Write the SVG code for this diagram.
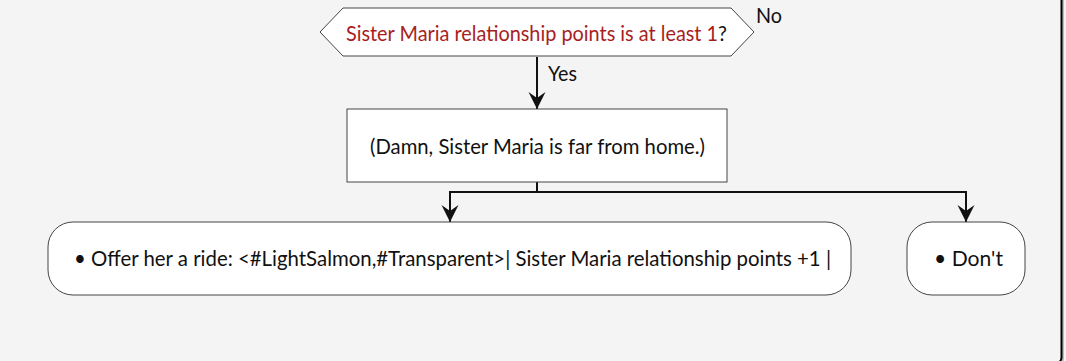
<svg xmlns="http://www.w3.org/2000/svg" width="1066" height="361" viewBox="0 0 1066 361">
<defs>
<style>
text{font-family:Lato,"Open Sans","Liberation Sans",sans-serif;font-size:20.5px;fill:#111}
.node{fill:#fff;stroke:#444;stroke-width:1}
.edge{fill:none;stroke:#111;stroke-width:2}
.red{fill:#a81e1e}
</style>
<marker id="ah" markerWidth="20" markerHeight="20" refX="18" refY="9" orient="auto" markerUnits="userSpaceOnUse" viewBox="0 0 20 18">
<path d="M18,9 L1,0.5 L7,9 L1,17.5 Z" fill="#111"/>
</marker>
</defs>
<rect x="0" y="0" width="1066" height="361" fill="#f4f4f4"/>
<rect x="-20" y="-20" width="1084" height="384" rx="5" fill="#bbb"/>
<rect x="-20" y="-20" width="1081.5" height="382.5" rx="5" fill="#f4f4f4" stroke="#000" stroke-width="2"/>
<g id="connectors">
<path class="edge" d="M537,57 V109" stroke-width="1.6" marker-end="url(#ah)"/>
<path class="edge" d="M537,182 V192 H450 V222" marker-end="url(#ah)"/>
<path class="edge" d="M537,192 H966 V222" marker-end="url(#ah)"/>
<text x="548" y="81" textLength="29" lengthAdjust="spacingAndGlyphs">Yes</text>
<text x="756" y="23" textLength="26" lengthAdjust="spacingAndGlyphs">No</text>
</g>
<g id="decision">
<polygon class="node" points="320,32 343,8 731,8 754,32 731,56 343,56"/>
<text x="346" y="41" textLength="381" lengthAdjust="spacingAndGlyphs"><tspan class="red">Sister Maria relationship points is at least 1</tspan>?</text>
</g>
<g id="damn">
<rect class="node" x="347" y="109" width="380" height="73"/>
<text x="370" y="154" textLength="335" lengthAdjust="spacingAndGlyphs">(Damn, Sister Maria is far from home.)</text>
</g>
<g id="offer">
<rect class="node" x="48" y="222" width="803" height="73" rx="25"/>
<text x="74" y="266" textLength="757" lengthAdjust="spacingAndGlyphs">• Offer her a ride: &lt;#LightSalmon,#Transparent&gt;| Sister Maria relationship points +1 |</text>
</g>
<g id="dont">
<rect class="node" x="907" y="222" width="118" height="73" rx="25"/>
<text x="934" y="266" textLength="69" lengthAdjust="spacingAndGlyphs">• Don't</text>
</g>
</svg>
